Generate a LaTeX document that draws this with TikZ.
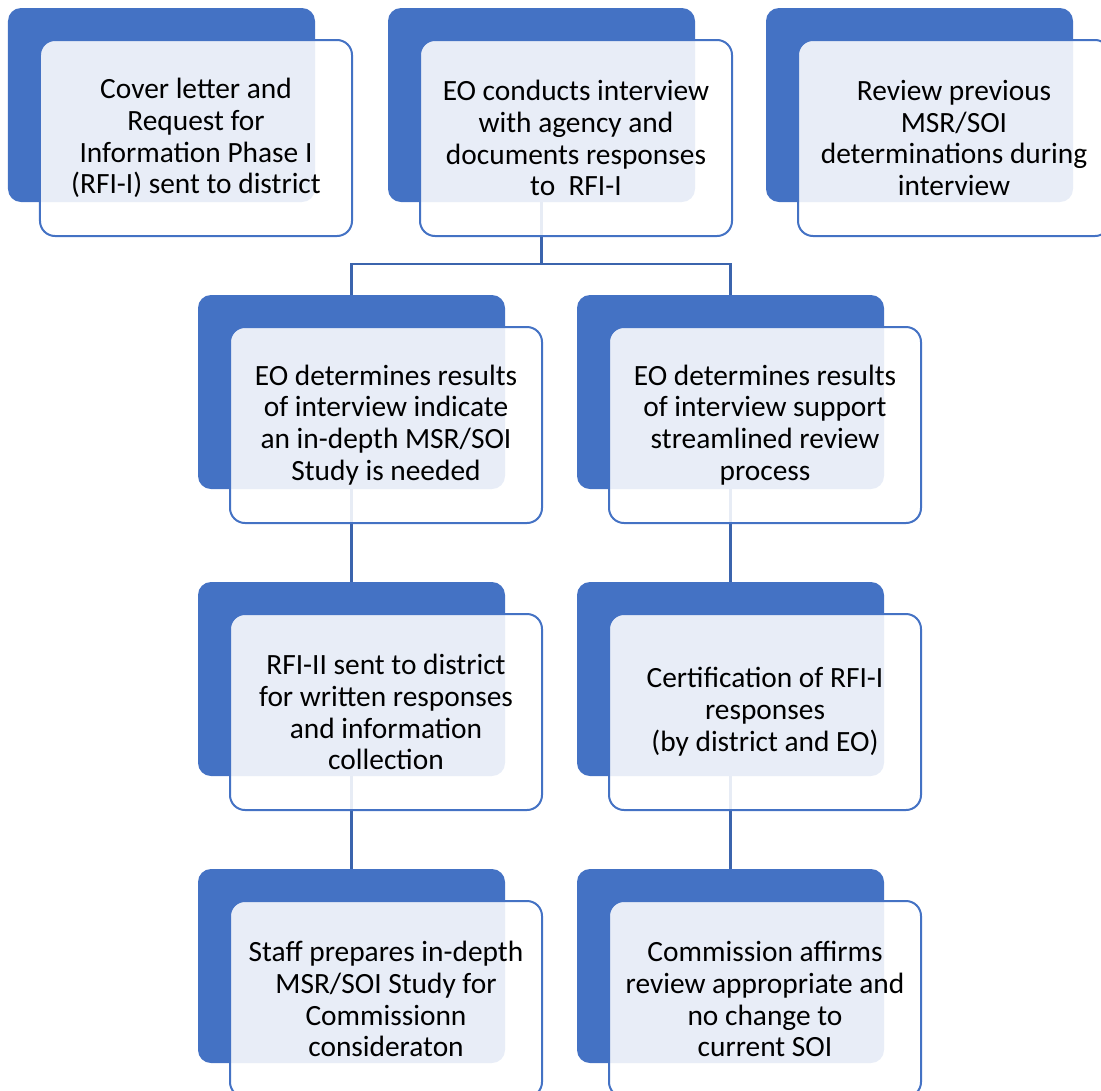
\documentclass[tikz,border=0pt]{standalone}
\usepackage{fontspec}
\setmainfont{Carlito}
\usetikzlibrary{backgrounds}

\definecolor{accentblue}{RGB}{68,114,196}
\definecolor{linkblue}{RGB}{59,100,173}

\tikzset{
  back/.style={fill=accentblue, rounded corners=13bp, minimum width=307bp,
    minimum height=194bp, inner sep=0pt},
  front/.style={draw=accentblue, line width=2bp, fill=white, fill opacity=0.88,
    text opacity=1, rounded corners=15bp, minimum width=312bp,
    minimum height=196bp, inner sep=0pt, align=center,
    font=\fontsize{29.5}{32}\selectfont},
  link/.style={draw=linkblue, line width=2.2bp}
}

\begin{document}
\begin{tikzpicture}[x=1bp, y=-1bp]
	\clip (0,0) rectangle (1101,1091);

	% Top row
	\node[back] (b1) at (161.5,105) {};
	\node[front] (f1) at (196,138) {Cover letter and\\Request for\\Information Phase I\\(RFI-I) sent to district};

	\node[back] (b2) at (541.5,105) {};
	\node[front] (f2) at (576,138) {EO conducts interview\\with agency and\\documents responses\\to~ RFI-I};

	\node[back] (b3) at (919.5,105) {};
	\node[front] (f3) at (954,138) {Review previous\\MSR/SOI\\determinations during\\interview};

	% Second row
	\node[back] (b4) at (351.5,392) {};
	\node[front] (f4) at (386,425) {EO determines results\\of interview indicate\\an in-depth MSR/SOI\\Study is needed};

	\node[back] (b5) at (730.5,392) {};
	\node[front] (f5) at (765,425) {EO determines results\\of interview support\\streamlined review\\process};

	% Third row
	\node[back] (b6) at (351.5,679) {};
	\node[front] (f6) at (386,712) {RFI-II sent to district\\for written responses\\and information\\collection};

	\node[back] (b7) at (730.5,679) {};
	\node[front] (f7) at (765,712) {Certification of RFI-I\\responses\\(by district and EO)};

	% Bottom row
	\node[back] (b8) at (351.5,966) {};
	\node[front] (f8) at (386,999) {Staff prepares in-depth\\MSR/SOI Study for\\Commissionn\\consideraton};

	\node[back] (b9) at (730.5,966) {};
	\node[front] (f9) at (765,999) {Commission affirms\\review appropriate and\\no change to\\current SOI};

	% Connectors behind the boxes
	\begin{scope}[on background layer]
		\draw[link] (b2.south) -- ++(0,62) coordinate (fork);
		\draw[link] (fork) -| (b4.north);
		\draw[link] (fork) -| (b5.north);
		\draw[link] (b4.south) -- (b6.north);
		\draw[link] (b6.south) -- (b8.north);
		\draw[link] (b5.south) -- (b7.north);
		\draw[link] (b7.south) -- (b9.north);
	\end{scope}
\end{tikzpicture}
\end{document}
